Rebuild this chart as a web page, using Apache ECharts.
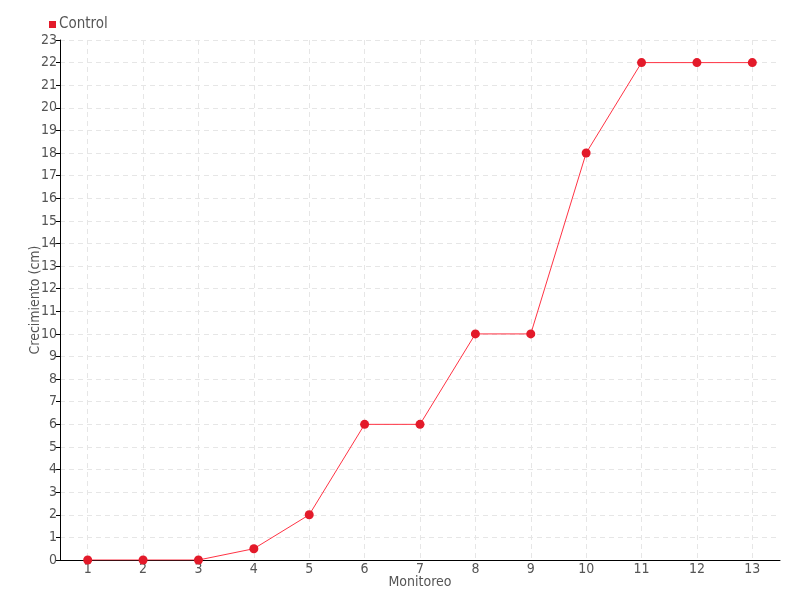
<!DOCTYPE html>
<html><head><meta charset="utf-8">
<script src="https://cdn.jsdelivr.net/npm/echarts@6/dist/echarts.min.js"></script>
<style>html,body{margin:0;padding:0;background:#fff}#c{width:800px;height:600px}</style>
</head><body><div id="c"></div>
<script>
const categories = ['1','2','3','4','5','6','7','8','9','10','11','12','13'];
const controlValues = [0,0,0,0.5,2,6,6,10,10,18,22,22,22];
const seriesName = 'Control';
const FONT = '"Liberation Sans Narrow","DejaVu Sans Condensed",sans-serif';
const chart = echarts.init(document.getElementById('c'));
chart.setOption({
  backgroundColor:'#fff',
  animation:false,
  textStyle:{fontFamily:FONT},
  legend:{data:[seriesName],left:44,top:12,itemWidth:7,itemHeight:7,itemGap:4,icon:'rect',
    textStyle:{color:'#555',fontSize:15,fontFamily:FONT,padding:[0,0,0,-2]}},
  grid:{left:60,right:20,top:40,bottom:40},
  xAxis:{type:'category',data:categories,boundaryGap:true,name:'Monitoreo',nameLocation:'middle',nameGap:15,nameMoveOverlap:false,
    nameTextStyle:{color:'#555',fontSize:14,fontFamily:FONT},
    axisLine:{lineStyle:{color:'#000',width:1}},
    axisTick:{alignWithLabel:true,length:4,lineStyle:{color:'#000'}},
    axisLabel:{color:'#555',fontSize:14,margin:2,fontFamily:FONT},
    splitLine:{show:true,alignWithLabel:true,lineStyle:{color:'#e6e6e6',type:[5,4]}}},
  yAxis:{type:'value',min:0,max:23,interval:1,name:'Crecimiento (cm)',nameLocation:'middle',nameGap:18,nameMoveOverlap:false,
    nameTextStyle:{color:'#555',fontSize:14,fontFamily:FONT},
    axisLine:{show:true,lineStyle:{color:'#000',width:1}},
    axisTick:{show:true,length:4,lineStyle:{color:'#000'}},
    axisLabel:{color:'#555',fontSize:14,margin:3,fontFamily:FONT},
    splitLine:{show:true,lineStyle:{color:'#e6e6e6',type:[5,4]}}},
  series:[{name:seriesName,type:'line',data:controlValues,symbol:'circle',symbolSize:9,
    lineStyle:{color:'#ff3344',width:1},itemStyle:{color:'#e31a2a'},color:'#e31a2a'}]
});
</script></body></html>
